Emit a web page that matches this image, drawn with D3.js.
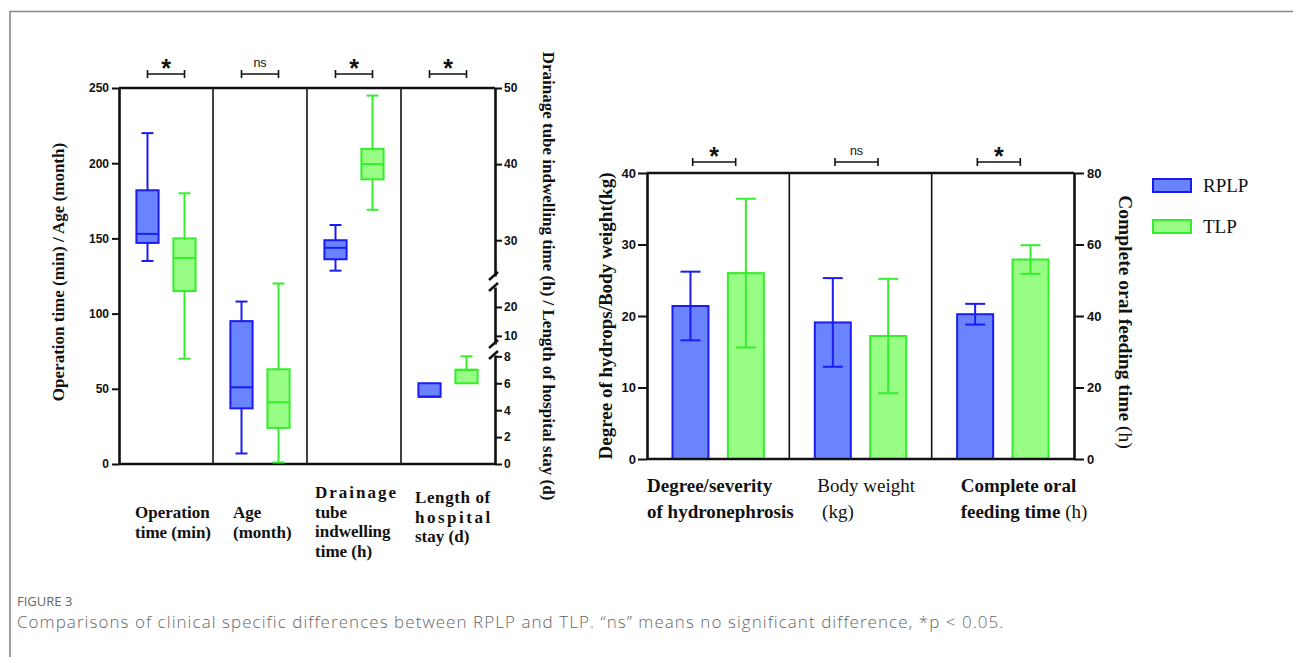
<!DOCTYPE html>
<html>
<head>
<meta charset="utf-8">
<script src="https://cdn.jsdelivr.net/npm/d3@7"></script>
<style>
  body { margin: 0; background: #fff; }
  svg { display: block; }
  .tick text { font-family: "Liberation Sans", Arial, sans-serif; font-weight: bold; }
  .serif { font-family: "Liberation Serif", "Times New Roman", serif; fill: #111; }
</style>
</head>
<body>
<svg id="chart" width="1293" height="657"></svg>
<script>
// ---- data ----
const groups = ["RPLP", "TLP"];

// box plots: [min, q1, median, q3, max]
const boxCategories = ["Operation time (min)", "Age (month)", "Drainage tube indwelling time (h)", "Length of hospital stay (d)"];
const rplpBoxes = [[135, 147, 153, 182, 220], [7, 37, 51, 95, 108], [26, 27.5, 29, 30, 32], [5, 5, 5, 6, 6]];
const tlpBoxes = [[70, 115, 137, 150, 180], [1, 24, 41, 63, 120], [34, 38, 40, 42, 49], [6, 6, 7, 7, 8]];
const boxAxisSide = ["left", "left", "right", "right"];
const boxSig = ["*", "ns", "*", "*"];
const boxLeftTicks = [0, 50, 100, 150, 200, 250];
const boxRightTicks = [0, 2, 4, 6, 8, 10, 20, 30, 40, 50];

// bar chart: mean and error
const barCategories = ["Degree/severity of hydronephrosis", "Body weight (kg)", "Complete oral feeding time (h)"];
const rplpMeans = [21.4, 19.1, 40.5];
const rplpErrors = [4.8, 6.2, 2.9];
const tlpMeans = [26.0, 17.2, 55.8];
const tlpErrors = [10.4, 8.0, 4.0];
const barAxisSide = ["left", "left", "right"];
const barSig = ["*", "ns", "*"];
const barLeftTicks = [0, 10, 20, 30, 40];
const barRightTicks = [0, 20, 40, 60, 80];

const fills = { RPLP: "#6a84ff", TLP: "#98fd84" };
const strokes = { RPLP: "#1c1cf2", TLP: "#34ee2c" };

const svg = d3.select("#chart");

// frame
svg.append("path")
  .attr("d", "M10,657 V11.5 H1293")
  .attr("fill", "none").attr("stroke", "#888").attr("stroke-width", 1.6);

// ================= left: box plots =================
const L = { x0: 119, x1: 495, top: 88, bottom: 464 };
const xBox = d3.scaleBand().domain(d3.range(boxCategories.length)).range([L.x0, L.x1]);
const xBoxGroup = d3.scaleBand().domain(groups).range([0, xBox.bandwidth()])
  .paddingInner(0.4).paddingOuter(0.47);
const yBoxL = d3.scaleLinear().domain([0, 250]).range([L.bottom, L.top]);

// broken right axis: three segments
const rightSegs = [
  d3.scaleLinear().domain([0, 8.1]).range([464, 355]),
  d3.scaleLinear().domain([7.2, 26.9]).range([344, 287]),
  d3.scaleLinear().domain([25.3, 50]).range([276, 88])
];
function segIndex(v) {
  if (v <= 9) return 0;
  if (v <= 22) return 1;
  return 2;
}
function yBoxR(v) {
  return rightSegs[segIndex(v)](v);
}

const left = svg.append("g");

// dividers
left.selectAll("line.div").data(d3.range(1, boxCategories.length)).join("line")
  .attr("x1", d => xBox(d)).attr("x2", d => xBox(d))
  .attr("y1", L.top).attr("y2", L.bottom)
  .attr("stroke", "#111").attr("stroke-width", 1.6);

// top & bottom frame lines
left.append("line").attr("x1", L.x0).attr("x2", L.x1).attr("y1", L.top).attr("y2", L.top)
  .attr("stroke", "#111").attr("stroke-width", 2.4);
left.append("line").attr("x1", L.x0).attr("x2", L.x1).attr("y1", L.bottom).attr("y2", L.bottom)
  .attr("stroke", "#111").attr("stroke-width", 2.6);

// left axis
const axL = left.append("g").attr("transform", `translate(${L.x0},0)`)
  .call(d3.axisLeft(yBoxL).tickValues(boxLeftTicks).tickSize(7).tickPadding(3).tickSizeOuter(0));
axL.selectAll("text").attr("font-size", 12).attr("fill", "#111");

// right broken axis
rightSegs.forEach((s, si) => {
  const g = left.append("g").attr("transform", `translate(${L.x1},0)`)
    .call(d3.axisRight(s).tickValues(boxRightTicks.filter(t => segIndex(t) === si)).tickSize(7).tickPadding(2).tickSizeOuter(0));
  g.selectAll("text").attr("font-size", 12).attr("fill", "#111");
});
left.selectAll(".domain").attr("stroke", "#111").attr("stroke-width", 2.6);
left.selectAll(".tick line").attr("stroke", "#111").attr("stroke-width", 2);

// break marks
const breakYs = [355, 344, 287, 276];
left.selectAll("line.brk").data(breakYs).join("line")
  .attr("x1", L.x1 - 6).attr("x2", L.x1 + 3)
  .attr("y1", d => d + 4).attr("y2", d => d - 4)
  .attr("stroke", "#111").attr("stroke-width", 2.4);

// boxes
boxCategories.forEach((cat, i) => {
  const yS = boxAxisSide[i] === "left" ? yBoxL : yBoxR;
  [rplpBoxes[i], tlpBoxes[i]].forEach((st, gi) => {
    const grp = groups[gi];
    const bw = xBoxGroup.bandwidth();
    const cx = xBox(i) + xBoxGroup(grp) + bw / 2;
    const [mn, q1, md, q3, mx] = st;
    const g = left.append("g").attr("stroke", strokes[grp]).attr("stroke-width", 2).attr("fill", "none");
    if (mx > q3) {
      g.append("line").attr("x1", cx).attr("x2", cx).attr("y1", yS(q3)).attr("y2", yS(mx));
      g.append("line").attr("x1", cx - 6).attr("x2", cx + 6).attr("y1", yS(mx)).attr("y2", yS(mx));
    }
    if (mn < q1) {
      g.append("line").attr("x1", cx).attr("x2", cx).attr("y1", yS(q1)).attr("y2", yS(mn));
      g.append("line").attr("x1", cx - 6).attr("x2", cx + 6).attr("y1", yS(mn)).attr("y2", yS(mn));
    }
    g.append("rect").attr("x", cx - bw / 2).attr("width", bw)
      .attr("y", yS(q3)).attr("height", yS(q1) - yS(q3))
      .attr("fill", fills[grp]);
    g.append("line").attr("x1", cx - bw / 2).attr("x2", cx + bw / 2).attr("y1", yS(md)).attr("y2", yS(md));
  });
});

// significance brackets
function bracket(g, xa, xb, y, label) {
  const b = g.append("g").attr("stroke", "#111").attr("stroke-width", 1.6);
  b.append("line").attr("x1", xa).attr("x2", xb).attr("y1", y).attr("y2", y);
  b.append("line").attr("x1", xa).attr("x2", xa).attr("y1", y - 4).attr("y2", y + 4);
  b.append("line").attr("x1", xb).attr("x2", xb).attr("y1", y - 4).attr("y2", y + 4);
  const star = label === "*";
  g.append("text").attr("x", (xa + xb) / 2).attr("y", star ? y + 3 : y - 7)
    .attr("text-anchor", "middle")
    .attr("font-family", "'Liberation Sans', Arial, sans-serif")
    .attr("font-weight", star ? "bold" : "normal")
    .attr("font-size", star ? 25 : 12.5)
    .attr("fill", "#111").text(label);
}
boxSig.forEach((s, i) => {
  const bw = xBoxGroup.bandwidth();
  const xa = xBox(i) + xBoxGroup("RPLP") + bw / 2;
  const xb = xBox(i) + xBoxGroup("TLP") + bw / 2;
  bracket(left, xa, xb, 74, s);
});

// axis titles
left.append("text").attr("class", "serif")
  .attr("transform", "translate(64,272) rotate(-90)")
  .attr("text-anchor", "middle").attr("font-size", 17).attr("font-weight", "bold")
  .text("Operation time (min) / Age (month)");
left.append("text").attr("class", "serif")
  .attr("transform", "translate(543,276) rotate(90)")
  .attr("text-anchor", "middle").attr("font-size", 17).attr("font-weight", "bold")
  .text("Drainage tube indwelling time (h) / Length of hospital stay (d)");

// category labels (left)
const boxLabelLines = [
  ["Operation", "time (min)"],
  ["Age", "(month)"],
  ["Drainage", "tube", "indwelling", "time (h)"],
  ["Length of", "hospital", "stay (d)"]
];
const boxLabelDx = [16, 20, 8, 14];
const boxLabelTop = [518, 518, 498, 503];
const boxLabelSpacing = { "Drainage": 2, "hospital": 2.5, "Length of": 0.6 };
boxLabelLines.forEach((lines, i) => {
  const t = left.append("text").attr("class", "serif")
    .attr("font-size", 17).attr("font-weight", "bold");
  lines.forEach((ln, k) => {
    t.append("tspan").attr("x", xBox(i) + boxLabelDx[i]).attr("y", boxLabelTop[i] + k * 19.5)
      .attr("letter-spacing", boxLabelSpacing[ln] || 0).text(ln);
  });
});

// ================= right: bar chart =================
const R = { x0: 647, x1: 1074, top: 173, bottom: 459 };
const xBar = d3.scaleBand().domain(d3.range(barCategories.length)).range([R.x0, R.x1]);
const xBarGroup = d3.scaleBand().domain(groups).range([0, xBar.bandwidth()])
  .paddingInner(0.35).paddingOuter(0.46);
const yBarL = d3.scaleLinear().domain([0, 40]).range([R.bottom, R.top]);
const yBarR = d3.scaleLinear().domain([0, 80]).range([R.bottom, R.top]);

const right = svg.append("g");

right.selectAll("line.div").data(d3.range(1, barCategories.length)).join("line")
  .attr("x1", d => xBar(d)).attr("x2", d => xBar(d))
  .attr("y1", R.top).attr("y2", R.bottom)
  .attr("stroke", "#111").attr("stroke-width", 1.6);

barCategories.forEach((cat, i) => {
  const yS = barAxisSide[i] === "left" ? yBarL : yBarR;
  const vals = [[rplpMeans[i], rplpErrors[i]], [tlpMeans[i], tlpErrors[i]]];
  vals.forEach(([m, e], gi) => {
    const grp = groups[gi];
    const bw = xBarGroup.bandwidth();
    const x = xBar(i) + xBarGroup(grp);
    const cx = x + bw / 2;
    const g = right.append("g").attr("stroke", strokes[grp]).attr("stroke-width", 2);
    g.append("rect").attr("x", x).attr("width", bw)
      .attr("y", yS(m)).attr("height", yS(0) - yS(m)).attr("fill", fills[grp]);
    g.append("line").attr("x1", cx).attr("x2", cx).attr("y1", yS(m - e)).attr("y2", yS(m + e));
    g.append("line").attr("x1", cx - 10).attr("x2", cx + 10).attr("y1", yS(m + e)).attr("y2", yS(m + e));
    g.append("line").attr("x1", cx - 10).attr("x2", cx + 10).attr("y1", yS(m - e)).attr("y2", yS(m - e));
  });
});

right.append("line").attr("x1", R.x0).attr("x2", R.x1).attr("y1", R.top).attr("y2", R.top)
  .attr("stroke", "#111").attr("stroke-width", 2.4);
right.append("line").attr("x1", R.x0).attr("x2", R.x1).attr("y1", R.bottom).attr("y2", R.bottom)
  .attr("stroke", "#111").attr("stroke-width", 2.6);

const axBL = right.append("g").attr("transform", `translate(${R.x0},0)`)
  .call(d3.axisLeft(yBarL).tickValues(barLeftTicks).tickSize(9).tickPadding(2).tickSizeOuter(0));
const axBR = right.append("g").attr("transform", `translate(${R.x1},0)`)
  .call(d3.axisRight(yBarR).tickValues(barRightTicks).tickSize(10).tickPadding(3).tickSizeOuter(0));
[axBL, axBR].forEach(a => {
  a.selectAll("text").attr("font-size", 13).attr("fill", "#111");
  a.select(".domain").attr("stroke", "#111").attr("stroke-width", 2.6);
  a.selectAll(".tick line").attr("stroke", "#111").attr("stroke-width", 2);
});

barSig.forEach((s, i) => {
  const bw = xBarGroup.bandwidth();
  const mid = xBar(i) + (xBarGroup("RPLP") + xBarGroup("TLP") + bw) / 2 - 4;
  bracket(right, mid - 21.5, mid + 21.5, 162, s);
});

right.append("text").attr("class", "serif")
  .attr("transform", "translate(612,316) rotate(-90)")
  .attr("text-anchor", "middle").attr("font-size", 19).attr("font-weight", "bold")
  .text("Degree of hydrops/Body weight(kg)");
const rt = right.append("text").attr("class", "serif")
  .attr("transform", "translate(1119,322) rotate(90)")
  .attr("text-anchor", "middle").attr("font-size", 19.5);
rt.append("tspan").attr("font-weight", "bold").text("Complete oral feeding time");
rt.append("tspan").text(" (h)");

// category labels (right)
const barLabelLines = [
  [[["Degree/severity", true]], [["of hydronephrosis", true]]],
  [[["Body weight", false]], [["\u00a0(kg)", false]]],
  [[["Complete oral", true]], [["feeding time", true], [" (h)", false]]]
];
const barLabelDx = [0, 28, 29];
barLabelLines.forEach((lines, i) => {
  const t = right.append("text").attr("class", "serif").attr("font-size", 19);
  lines.forEach((parts, k) => {
    parts.forEach(([txt, bold], p) => {
      const ts = t.append("tspan").attr("font-weight", bold ? "bold" : "normal").text(txt);
      if (p === 0) ts.attr("x", xBar(i) + barLabelDx[i]).attr("y", 492 + k * 26);
    });
  });
});

// legend
const legend = svg.append("g").attr("transform", "translate(1153,179)");
groups.forEach((grp, i) => {
  const g = legend.append("g").attr("transform", `translate(0,${i * 41})`);
  g.append("rect").attr("width", 38).attr("height", 13)
    .attr("fill", fills[grp]).attr("stroke", strokes[grp]).attr("stroke-width", 2);
  g.append("text").attr("class", "serif").attr("x", 50).attr("y", 13)
    .attr("font-size", 19).text(grp);
});

// caption
svg.append("text").attr("x", 17).attr("y", 606)
  .attr("font-family", "'Open Sans', sans-serif").attr("font-size", 13).attr("fill", "#666")
  .text("FIGURE 3");
svg.append("text").attr("x", 17).attr("y", 628)
  .attr("font-family", "'Open Sans', sans-serif").attr("font-size", 17).attr("font-weight", 300)
  .attr("letter-spacing", 1.05).attr("fill", "#666")
  .text("Comparisons of clinical specific differences between RPLP and TLP. \u201cns\u201d means no significant difference, *p < 0.05.");
</script>
</body>
</html>
